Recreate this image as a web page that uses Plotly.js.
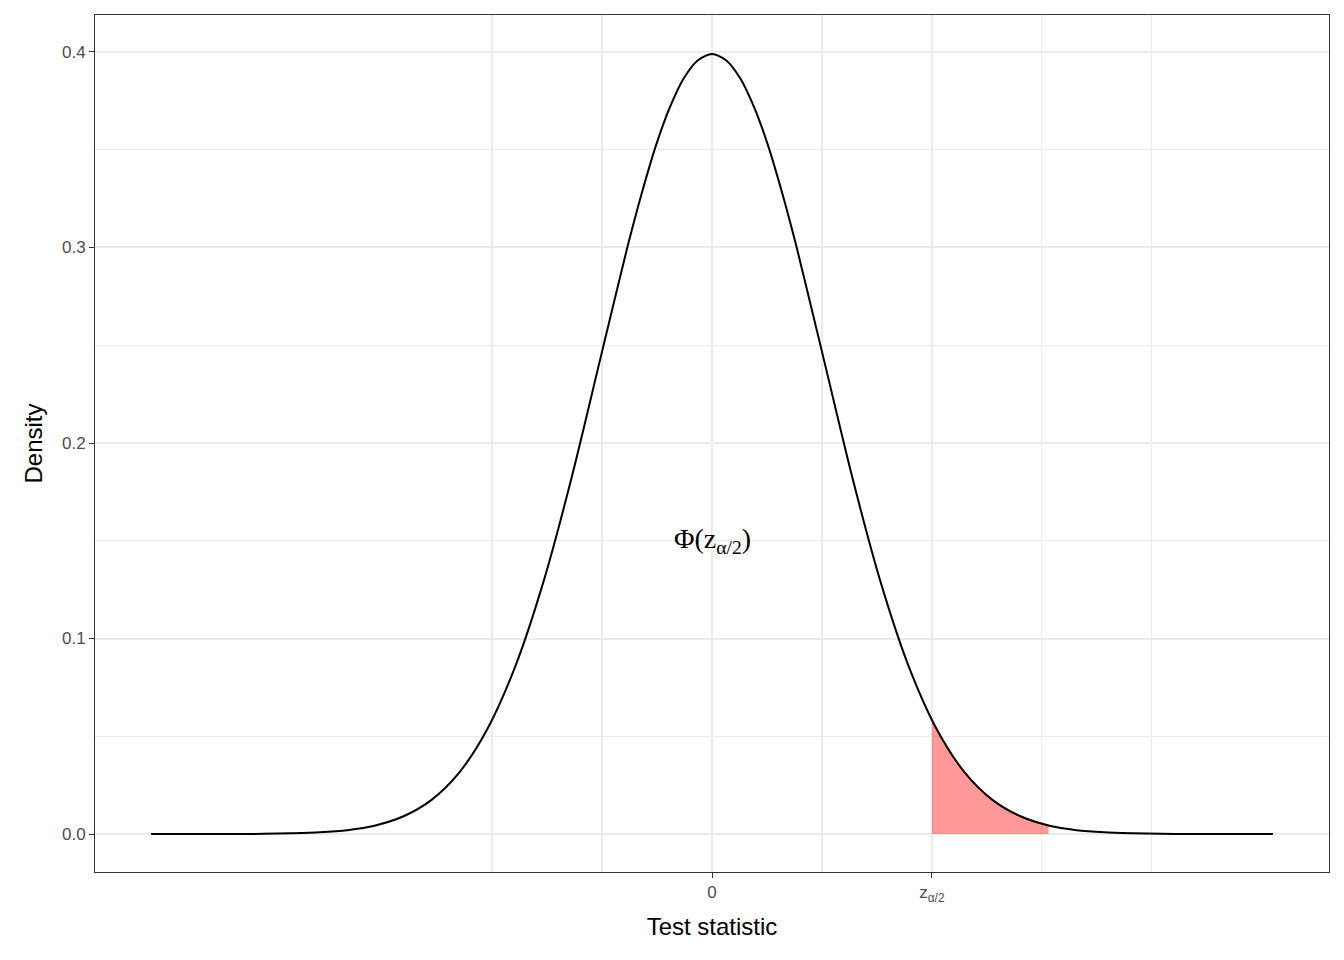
<!DOCTYPE html>
<html>
<head>
<meta charset="utf-8">
<script src="https://cdn.plot.ly/plotly-3.0.1.min.js"></script>
<style>body{margin:0;background:#fff}#plot{width:1344px;height:960px}</style>
</head>
<body>
<div id="plot"></div>
<script>
// standard normal density
const xs = [-5, -4.75, -4.5, -4.25, -4, -3.75, -3.5, -3.25, -3, -2.75, -2.5, -2.25, -2, -1.75, -1.5, -1.25, -1, -0.875, -0.75, -0.625, -0.5, -0.375, -0.25, -0.125,
  0, 0.125, 0.25, 0.375, 0.5, 0.625, 0.75, 0.875, 1, 1.25, 1.5, 1.75, 2, 2.25, 2.5, 2.75, 3, 3.25, 3.5, 3.75, 4, 4.25, 4.5, 4.75, 5];
const dens = [0, 0, 0, 0, 0.0001, 0.0004, 0.0009, 0.0020, 0.0044, 0.0091, 0.0175, 0.0317, 0.0540, 0.0863, 0.1295, 0.1826, 0.2420, 0.2717, 0.3011, 0.3280, 0.3521, 0.3718, 0.3867, 0.3958,
  0.3989, 0.3958, 0.3867, 0.3718, 0.3521, 0.3280, 0.3011, 0.2717, 0.2420, 0.1826, 0.1295, 0.0863, 0.0540, 0.0317, 0.0175, 0.0091, 0.0044, 0.0020, 0.0009, 0.0004, 0.0001, 0, 0, 0, 0];
const tailX = [1.96, 2, 2.25, 2.5, 2.75, 3];
const tailY = [0.0584, 0.0540, 0.0317, 0.0175, 0.0091, 0.0044];
const zCrit = 1.96;

const grid = "#EBEBEB";
const traces = [
  {x: tailX, y: tailY, type: "scatter", mode: "lines", fill: "tozeroy",
   fillcolor: "rgba(255,0,0,0.4)", line: {width: 0, shape: "spline"}, hoverinfo: "skip"},
  {x: xs, y: dens, type: "scatter", mode: "lines", line: {color: "black", width: 2, shape: "spline", smoothing: 0.8}}
];

const layout = {
  width: 1344, height: 960,
  margin: {l: 95, r: 15, t: 15, b: 88},
  showlegend: false,
  paper_bgcolor: "white", plot_bgcolor: "white",
  font: {family: "Liberation Sans, Arial", color: "#4D4D4D", size: 17},
  xaxis: {
    range: [-5.5, 5.5], zeroline: false,
    tickvals: [0, zCrit],
    ticktext: ["0", "z<sub>α/2</sub>"],
    showgrid: true, gridcolor: grid, gridwidth: 2,
    minor: {tickvals: [-zCrit, -0.5 * zCrit, 0.5 * zCrit, 1.5 * zCrit, 2 * zCrit], showgrid: true, gridcolor: grid, gridwidth: 1.3, ticks: ""},
    ticks: "outside", ticklen: 5, tickcolor: "#333",
    showline: true, linecolor: "#333", linewidth: 1, mirror: true,
    title: {text: "Test statistic", font: {size: 24, color: "black"}, standoff: 14}
  },
  yaxis: {
    range: [-0.0194, 0.4189], zeroline: false,
    tickvals: [0, 0.1, 0.2, 0.3, 0.4], ticktext: ["0.0", "0.1", "0.2", "0.3", "0.4"],
    showgrid: true, gridcolor: grid, gridwidth: 2,
    minor: {tickvals: [0.05, 0.15, 0.25, 0.35], showgrid: true, gridcolor: grid, gridwidth: 1.3, ticks: ""},
    ticks: "outside", ticklen: 5, tickcolor: "#333",
    showline: true, linecolor: "#333", linewidth: 1, mirror: true,
    title: {text: "Density", font: {size: 24, color: "black"}, standoff: 12}
  },
  annotations: [{x: 0, y: 0.15, xref: "x", yref: "y", showarrow: false,
    text: "Φ(z<sub>α/2</sub>)", font: {family: "Liberation Serif, serif", size: 28, color: "black"}}]
};

Plotly.newPlot("plot", traces, layout, {displayModeBar: false, staticPlot: true});
</script>
</body>
</html>
